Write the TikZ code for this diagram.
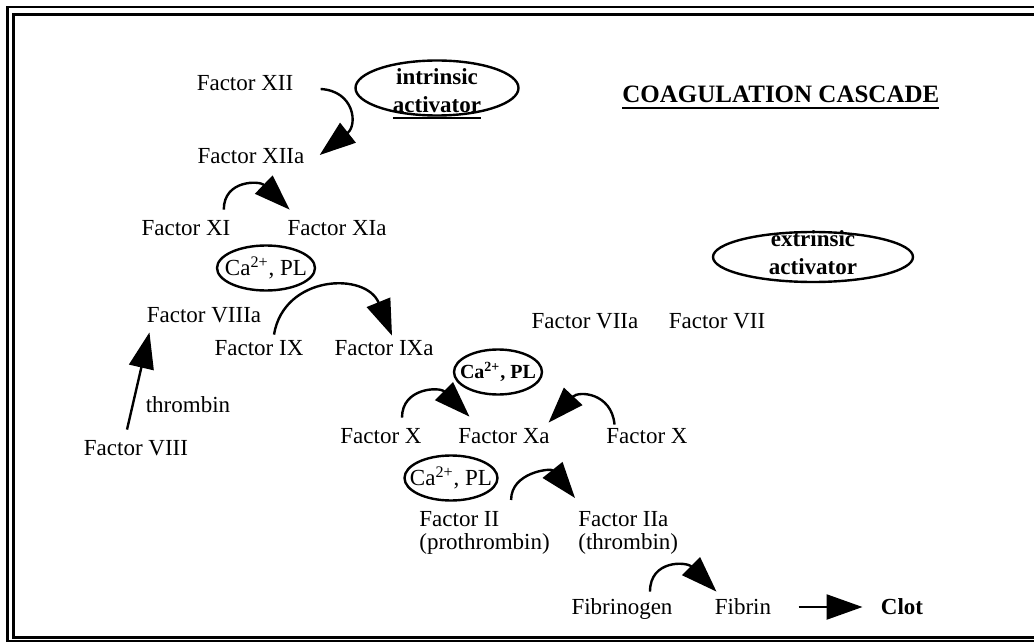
\documentclass[tikz,border=0pt]{standalone}
\usepackage{fontspec}
\setmainfont{Liberation Serif}
\usetikzlibrary{arrows.meta,shapes.geometric}
\definecolor{cascInk}{HTML}{000000}
\newcommand\cascsize{\fontsize{11.5}{14}\selectfont}
\newcommand\ulthick[1]{\leavevmode\vtop{\hbox{#1}\kern2pt\hrule height 1pt}}

\begin{document}
\begin{tikzpicture}[x=0.5pt,y=-0.5pt,color=cascInk,
    font=\cascsize,
    factor/.style={inner sep=2pt,text height=8pt,text depth=2pt},
    twoline/.style={inner sep=2pt,align=left,anchor=north west,
                    font=\fontsize{11.5}{11.7}\selectfont},
    oval/.style 2 args={draw,ellipse,line width=1.2pt,minimum width=#1,minimum height=#2},
    act/.style={-{Triangle[length=18pt,width=12.5pt]},line width=1.2pt}]
  \useasboundingbox (0,0) rectangle (1034,642);
  % double frame, runs off to the right
  \draw[line width=1.1pt] (1034,7) -| (7.5,641) -- (1034,641);
  \draw[line width=1.5pt] (1034,14.5) -| (13,637) -- (1034,637);

  \node[anchor=base west,inner sep=0pt,font=\bfseries\fontsize{12.5}{14}\selectfont]
    (title) at (622,103) {\ulthick{COAGULATION CASCADE}};

  % activators and cofactors
  \node[oval={81.5pt}{27.5pt},label={[align=center,font=\bfseries\cascsize,yshift=-3pt]center:intrinsic\\\ulthick{activator}}] (intr) at (437,88) {};
  \node[oval={100pt}{25pt},label={[align=center,font=\bfseries\cascsize,yshift=2pt]center:extrinsic\\activator}] (extr) at (813,257) {};
  \node[oval={49pt}{22.5pt},label={center:Ca\textsuperscript{2+}, PL}] (caA) at (266,268) {};
  \node[oval={44pt}{22.5pt},label={[font=\bfseries\fontsize{10}{12}\selectfont]center:Ca\textsuperscript{2+}, PL}] (caB) at (498,372) {};
  \node[oval={46.5pt}{22.5pt},label={center:Ca\textsuperscript{2+}, PL}] (caC) at (451,478) {};

  % factors
  \node[factor] (fXII)  at (245,85)  {Factor XII};
  \node[factor] (fXIIa) at (251,157) {Factor XIIa};
  \node[factor] (fXI)   at (186,229) {Factor XI};
  \node[factor] (fXIa)  at (337,229) {Factor XIa};
  \node[factor] (fVIIIa) at (204,316) {Factor VIIIa};
  \node[factor] (fIX)   at (259,349) {Factor IX};
  \node[factor] (fIXa)  at (384,349) {Factor IXa};
  \node[factor] (thr)   at (188,406) {thrombin};
  \node[factor] (fVIII) at (136,449) {Factor VIII};
  \node[factor] (fVIIa) at (585,322) {Factor VIIa};
  \node[factor] (fVII)  at (717,322) {Factor VII};
  \node[factor] (fXl)   at (381,437) {Factor X};
  \node[factor] (fXa)   at (504,437) {Factor Xa};
  \node[factor] (fXr)   at (647,437) {Factor X};
  \node[twoline] (fII)  at (415,507) {Factor II\\(prothrombin)};
  \node[twoline] (fIIa) at (574,507) {Factor IIa\\(thrombin)};
  \node[factor] (fbg)   at (622,608) {Fibrinogen};
  \node[factor] (fib)   at (743,608) {Fibrin};
  \node[factor,font=\bfseries\cascsize] (clot) at (902,608) {Clot};

  % activation arrows
  \draw[act] ([shift={(23,4)}]fXII.east) .. controls +(34,2) and +(38,-30) .. ([shift={(11,-2)}]fXIIa.east);
  \draw[act] ([shift={(-11,-5)}]fXI.north east) .. controls +(0,-30) and +(-30,-29) .. ([shift={(6.5,-5)}]fXIa.north west);
  \draw[act] ([shift={(15,0)}]fIX.north) .. controls +(10,-60) and +(-26,-64) .. ([shift={(8,1)}]fIXa.north);
  \draw[act] ([shift={(-9,-5)}]fVIII.north) -- ([shift={(7,2)}]fVIIIa.south west);
  \draw[act] ([shift={(21,-5)}]fXl.north) .. controls +(0,-30) and +(-30,-30) .. ([shift={(15.5,-6)}]fXa.north west);
  \draw[act] ([shift={(12.5,2)}]fXr.north west) .. controls +(-3,-32) and +(30,-32) .. ([shift={(-5.5,0)}]fXa.north east);
  \draw[act] ([shift={(-43,-7)}]fII.north east) .. controls +(0,-28) and +(-24,-30) .. ([shift={(1,-9)}]fIIa.north west);
  \draw[act] ([shift={(28,-2)}]fbg.north) .. controls +(0,-32) and +(-30,-30) .. ([shift={(6,-2)}]fib.north west);
  \draw[act] ([shift={(23,-1)}]fib.east) -- ([shift={(-14,-1)}]clot.west);
\end{tikzpicture}
\end{document}
